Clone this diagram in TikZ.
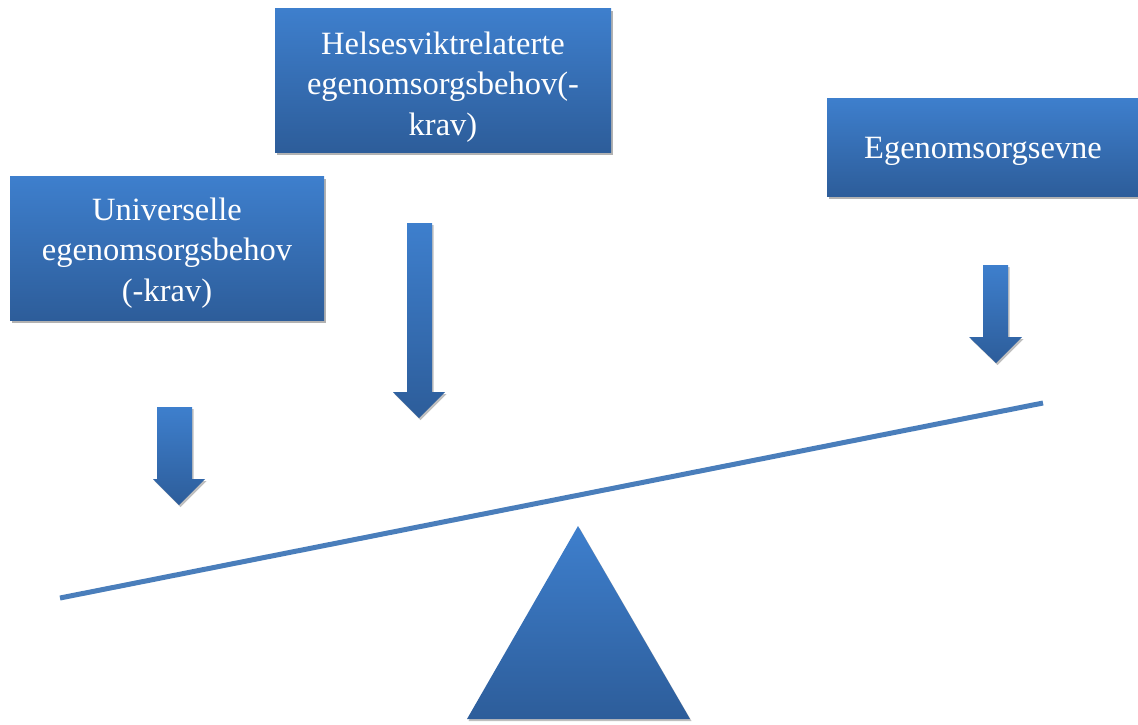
\documentclass[tikz,border=0pt]{standalone}
\usepackage{fontspec}
\setmainfont{Liberation Serif}
\usetikzlibrary{shadows}
\definecolor{blueTop}{RGB}{62,127,205}
\definecolor{blueBot}{RGB}{45,93,154}
\definecolor{beamcol}{RGB}{74,126,187}
\tikzset{
  blockfill/.style={top color=blueTop, bottom color=blueBot, draw=none},
  blockbox/.style={blockfill, rectangle, inner sep=0pt,
    drop shadow={shadow xshift=1.5pt, shadow yshift=-3pt, fill=black, opacity=0.3}},
  boxtext/.style={text=white, align=center, inner sep=0pt,
    font=\fontsize{32.5}{40.5}\selectfont},
  arrowshape/.style={blockfill,
    drop shadow={shadow xshift=1.5pt, shadow yshift=-2pt, fill=black, opacity=0.25}},
  beam/.style={draw=beamcol, line width=5pt}
}
\begin{document}
\begin{tikzpicture}[x=1pt,y=-1pt]
\useasboundingbox (0,0) rectangle (1138,724);
% boxes
\node[blockbox, minimum width=336pt, minimum height=144pt,
  label={[boxtext, yshift=-7pt]center:Helsesviktrelaterte\\egenomsorgsbehov(-\\krav)}] (helse) at (443,80) {};
\node[blockbox, minimum width=314pt, minimum height=144pt,
  label={[boxtext, yshift=-5pt]center:Universelle\\egenomsorgsbehov\\(-krav)}] (univ) at (167,248) {};
\node[blockbox, minimum width=320pt, minimum height=98pt,
  label={[boxtext, yshift=-4pt, xshift=-4pt]center:Egenomsorgsevne}] (evne) at (987,147) {};
% arrows
\path[arrowshape] (157,407) -- (192,407) -- (192,479) -- (205,479) -- (179,505) -- (153,479) -- (157,479) -- cycle;
\path[arrowshape] (407,223) -- (432,223) -- (432,392) -- (445,392) -- (419,418) -- (393,392) -- (407,392) -- cycle;
\path[arrowshape] (983,265) -- (1008,265) -- (1008,337) -- (1022,337) -- (996,363) -- (969,337) -- (983,337) -- cycle;
% beam
\coordinate (beamL) at (60,598);
\coordinate (beamR) at (1043,403);
\draw[beam] (beamL) -- (beamR);
% fulcrum
\path[arrowshape] (578,526) -- (690,719) -- (467,719) -- cycle;
\end{tikzpicture}
\end{document}
